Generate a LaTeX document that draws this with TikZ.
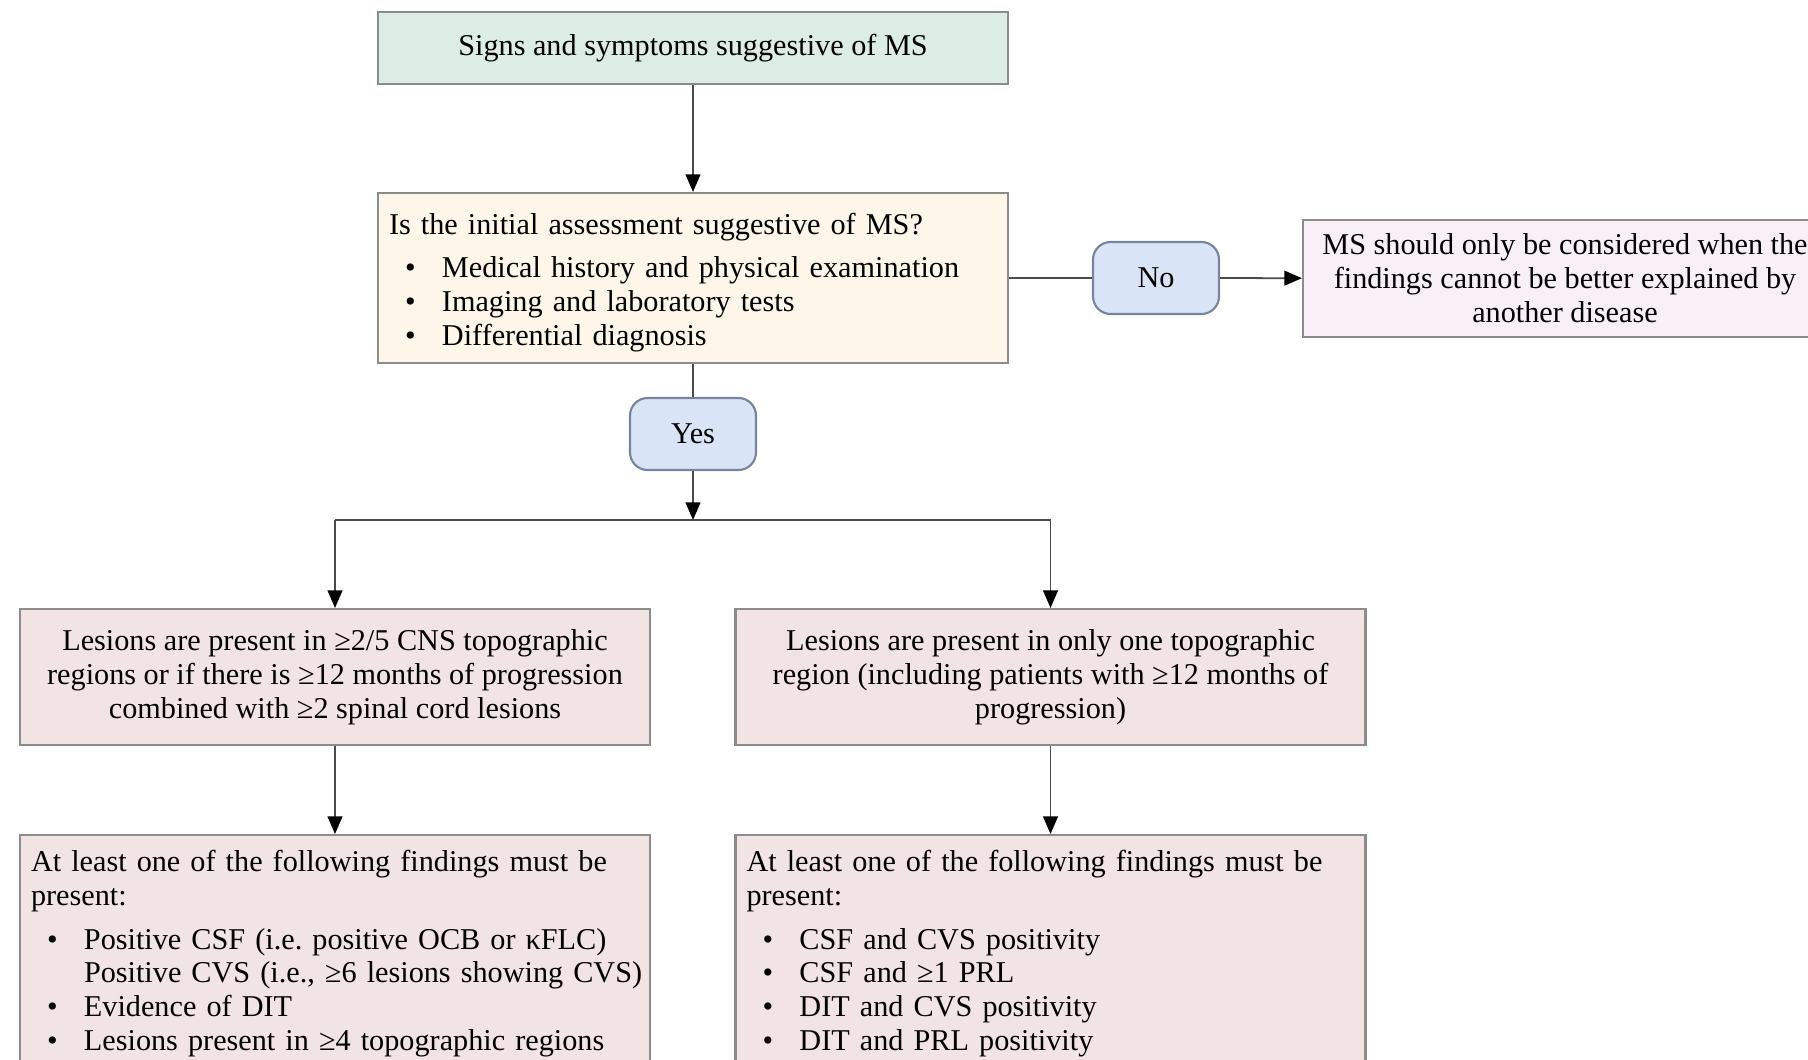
\documentclass[tikz,border=0pt]{standalone}
\usepackage{fontspec}
\setmainfont{Liberation Serif}
\usepackage{tikz}
\usetikzlibrary{arrows.meta,positioning}
\definecolor{msgreen}{RGB}{219,237,228}
\definecolor{mscream}{RGB}{253,246,233}
\definecolor{msblue}{RGB}{217,229,247}
\definecolor{msblueline}{RGB}{120,132,155}
\definecolor{mslilac}{RGB}{248,240,246}
\definecolor{mspink}{RGB}{242,227,228}
\definecolor{msborder}{RGB}{140,140,140}
\definecolor{msline}{RGB}{75,75,75}
\newcommand{\itm}[1]{\hspace*{0.16cm}\makebox[0.37cm][l]{•}#1}
\newcommand{\gap}{\hspace*{0.53cm}}
\frenchspacing

\begin{document}
\begin{tikzpicture}[font=\fontsize{8.6}{9.65}\selectfont,
    box/.style={draw=msborder, line width=0.6pt, minimum width=6.3cm,
                align=center, inner xsep=0.11cm, inner ysep=0.12cm},
    choice/.style={draw=msblueline, line width=0.6pt, fill=msblue, rounded corners=5pt,
                   minimum width=1.26cm, minimum height=0.72cm},
    line/.style={draw=msline, line width=0.5pt},
    arr/.style={line, -{Triangle[length=5pt,width=4.2pt,black]}}]
\useasboundingbox (0,0) rectangle (18.08,-10.60);
\clip (0,0) rectangle (18.08,-10.60);
% Top: initial assessment
\node[box, fill=msgreen, minimum height=0.72cm] (signs) at (6.93,-0.48) {Signs and symptoms suggestive of MS};
\node[box, fill=mscream, minimum height=1.70cm, inner ysep=0.08cm, align=left, text width=6.08cm] (assess) at (6.93,-2.78)
    {\rule{0pt}{0.3cm}Is the initial assessment suggestive of MS?\\[2.6pt]
     \itm{Medical history and physical examination}\\
     \itm{Imaging and laboratory tests}\\
     \itm{Differential diagnosis}};
\node[choice] (yes) at (6.93,-4.34) {Yes};
\node[choice] (no) at (11.56,-2.78) {No};
\node[box, fill=mslilac, minimum width=5.24cm, minimum height=1.17cm] (other) at (15.65,-2.785)
    {MS should only be considered when the\\ findings cannot be better explained by\\ another disease};
\draw[arr] (signs) -- (assess);
\draw[line] (assess) -- (yes);
\draw[line] (assess) -- (no);
\draw[arr] (no) -- (other);
% Split into the two branches
\coordinate (split) at (6.93,-5.20);
\node[box, fill=mspink, minimum height=1.36cm] (multi) at (3.35,-6.77)
    {Lesions are present in ≥2/5 CNS topographic\\ regions or if there is ≥12 months of progression\\ combined with ≥2 spinal cord lesions};
\node[box, fill=mspink, minimum height=1.36cm] (single) at (10.505,-6.77)
    {Lesions are present in only one topographic\\ region (including patients with ≥12 months of\\ progression)};
\draw[arr] (yes) -- (split);
\draw[line] (multi.north |- split) -- (single.north |- split);
\draw[arr] (multi.north |- split) -- (multi);
\draw[arr] (single.north |- split) -- (single);
% Bottom: required findings
\node[box, fill=mspink, anchor=north, align=left, text width=6.08cm, inner ysep=0.15cm] (multifind) at (3.35,-8.34)
    {At least one of the following findings must be\\ present:\\[2.8pt]
     \itm{Positive CSF (i.e. positive OCB or κFLC)}\\
     \gap\mbox{Positive CVS (i.e., ≥6 lesions showing CVS)}\\
     \itm{Evidence of DIT}\\
     \itm{Lesions present in ≥4 topographic regions}\\[0.3cm]\strut};
\node[box, fill=mspink, anchor=north, align=left, text width=6.08cm, inner ysep=0.15cm] (singlefind) at (10.505,-8.34)
    {At least one of the following findings must be\\ present:\\[2.8pt]
     \itm{CSF and CVS positivity}\\
     \itm{CSF and ≥1 PRL}\\
     \itm{DIT and CVS positivity}\\
     \itm{DIT and PRL positivity}\\[0.3cm]\strut};
\draw[arr] (multi) -- (multifind);
\draw[arr] (single) -- (singlefind);
\end{tikzpicture}
\end{document}
